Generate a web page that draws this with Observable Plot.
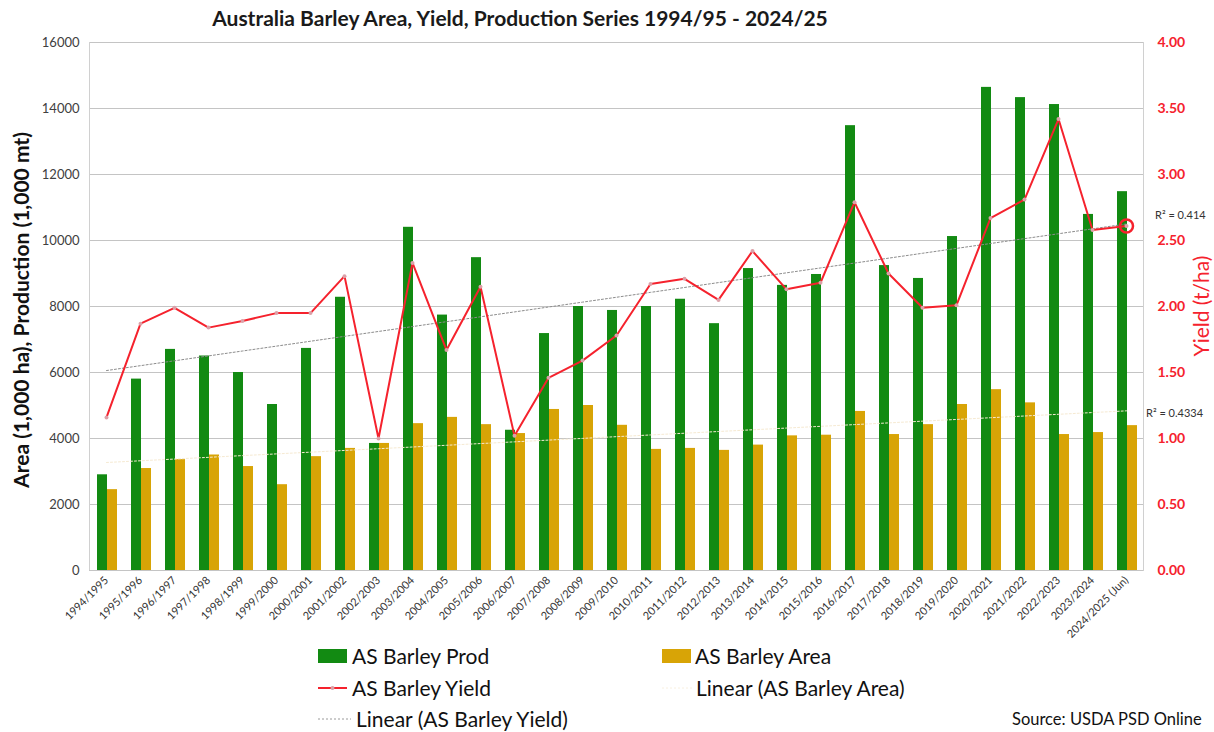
<!DOCTYPE html>
<html>
<head>
<meta charset="utf-8">
<script src="https://cdn.jsdelivr.net/npm/d3@7"></script>
<script src="https://cdn.jsdelivr.net/npm/@observablehq/plot@0.6"></script>
<style>
  html, body { margin: 0; padding: 0; background: #fff; }
  #wrap { position: relative; width: 1214px; height: 732px; overflow: hidden; font-family: Lato, "Open Sans", sans-serif; }
  #chart { position: absolute; left: 0; top: 0; }
  .abs { position: absolute; white-space: nowrap; }
  .title { left: 0; width: 1040px; text-align: center; top: 5px; font-size: 21px; font-weight: 700; color: #1a1a1a; }
  .ytitle { font-size: 21px; font-weight: 700; color: #111; transform: translate(-50%, -50%) rotate(-90deg); left: 20px; top: 310px; }
  .ytitle2 { font-size: 21px; color: #f5222d; transform: translate(-50%, -50%) rotate(-90deg); left: 1200px; top: 306px; }
  .leg { font-size: 21px; color: #111; }
  .r2 { font-size: 11px; color: #333; }
  .src { font-size: 16.5px; color: #111; }
</style>
</head>
<body>
<div id="wrap">
  <div id="chart"></div>
  <div class="abs title">Australia Barley Area, Yield, Production Series 1994/95 - 2024/25</div>
  <div class="abs ytitle">Area (1,000 ha), Production (1,000 mt)</div>
  <div class="abs ytitle2">Yield (t/ha)</div>
  <div class="abs r2" style="left:1155px; top:208px;">R² = 0.414</div>
  <div class="abs r2" style="left:1146px; top:406px;">R² = 0.4334</div>

  <svg class="abs" style="left:318px; top:648px;" width="30" height="16"><rect x="0" y="1" width="29" height="14" fill="#128a12"/></svg>
  <div class="abs leg" style="left:352px; top:643px;">AS Barley Prod</div>
  <svg class="abs" style="left:318px; top:680px;" width="30" height="16"><line x1="0" y1="8" x2="29" y2="8" stroke="#f5222d" stroke-width="2"/><circle cx="14.5" cy="8" r="2" fill="#d9a0a6"/></svg>
  <div class="abs leg" style="left:352px; top:675px;">AS Barley Yield</div>
  <svg class="abs" style="left:318px; top:711px;" width="34" height="16"><line x1="0" y1="8" x2="33" y2="8" stroke="#9a9a9a" stroke-width="1" stroke-dasharray="2,2"/></svg>
  <div class="abs leg" style="left:356px; top:706px;">Linear (AS Barley Yield)</div>

  <svg class="abs" style="left:662px; top:648px;" width="30" height="16"><rect x="0" y="1" width="29" height="14" fill="#d8a406"/></svg>
  <div class="abs leg" style="left:695px; top:643px;">AS Barley Area</div>
  <svg class="abs" style="left:662px; top:680px;" width="32" height="16"><line x1="0" y1="8" x2="31" y2="8" stroke="#f8f0e0" stroke-width="1" stroke-dasharray="2,2"/></svg>
  <div class="abs leg" style="left:696px; top:675px;">Linear (AS Barley Area)</div>

  <div class="abs src" style="left:1012px; top:709px;">Source: USDA PSD Online</div>
</div>
<script>
const seasons = ["1994/1995","1995/1996","1996/1997","1997/1998","1998/1999","1999/2000","2000/2001","2001/2002","2002/2003","2003/2004","2004/2005","2005/2006","2006/2007","2007/2008","2008/2009","2009/2010","2010/2011","2011/2012","2012/2013","2013/2014","2014/2015","2015/2016","2016/2017","2017/2018","2018/2019","2019/2020","2020/2021","2021/2022","2022/2023","2023/2024","2024/2025 (Jun)"];
const production = [2900,5800,6700,6500,6000,5030,6730,8280,3850,10400,7740,9480,4250,7180,8000,7880,8000,8220,7480,9150,8640,8970,13480,9240,8850,10120,14640,14330,14120,10790,11480];
const area = [2450,3090,3360,3500,3150,2600,3450,3700,3850,4450,4640,4420,4150,4880,5000,4400,3670,3700,3640,3800,4080,4100,4820,4120,4420,5030,5480,5080,4120,4180,4390];
const yieldTHa = [1.16,1.87,1.99,1.84,1.89,1.95,1.95,2.23,1.00,2.33,1.67,2.15,1.02,1.46,1.59,1.78,2.17,2.21,2.05,2.42,2.13,2.18,2.79,2.25,1.99,2.01,2.67,2.81,3.42,2.58,2.61];
const leftTicks = [0,2000,4000,6000,8000,10000,12000,14000,16000];
const rightTickLabels = ["0.00","0.50","1.00","1.50","2.00","2.50","3.00","3.50","4.00"];

// yield axis maps 0–4 t/ha onto the 0–16000 left axis
const yieldFactor = 4000;

function linfit(vals) {
  const n = vals.length;
  const xs = vals.map((_, i) => i + 1);
  const mx = d3.mean(xs), my = d3.mean(vals);
  let sxy = 0, sxx = 0;
  for (let i = 0; i < n; i++) { sxy += (xs[i] - mx) * (vals[i] - my); sxx += (xs[i] - mx) ** 2; }
  const b = sxy / sxx, a = my - b * mx;
  return xs.map(x => a + b * x);
}
const yieldFit = linfit(yieldTHa);
const areaFit = linfit(area);

const data = seasons.map((s, i) => ({
  season: s, prod: production[i], area: area[i], yld: yieldTHa[i],
  yldFit: yieldFit[i], areaFit: areaFit[i], last: i === seasons.length - 1
}));

const chart = Plot.plot({
  width: 1214,
  height: 650,
  marginTop: 42,
  marginLeft: 89,
  marginRight: 71,
  marginBottom: 80,
  style: { fontFamily: "Lato, 'Open Sans', sans-serif", background: "transparent" },
  x: { domain: seasons, padding: 0, label: null },
  y: { domain: [0, 16000], label: null },
  marks: [
    Plot.gridY(leftTicks, { stroke: "#c4c4c4", strokeOpacity: 1, strokeWidth: 1 }),
    Plot.frame({ anchor: "left", stroke: "#d0d0d0" }),
    Plot.frame({ anchor: "right", stroke: "#d0d0d0" }),
    Plot.barY(data, { x: "season", y: "prod", fill: "#128a12", insetLeft: 8, insetRight: 16 }),
    Plot.barY(data, { x: "season", y: "area", fill: "#d8a406", insetLeft: 18, insetRight: 6 }),
    Plot.ruleY([0], { stroke: "#c4c4c4" }),
    Plot.line(data, { x: "season", y: d => d.areaFit, stroke: "#f6ead2", strokeWidth: 1, strokeDasharray: "2,2" }),
    Plot.line(data, { x: "season", y: d => d.yldFit * yieldFactor, stroke: "#8c8c8c", strokeWidth: 1, strokeDasharray: "2,2" }),
    Plot.line(data, { x: "season", y: d => d.yld * yieldFactor, stroke: "#f5222d", strokeWidth: 2 }),
    Plot.dot(data, { x: "season", y: d => d.yld * yieldFactor, r: 2, fill: "#dca0a8", stroke: "none" }),
    Plot.dot(data.filter(d => d.last), { x: "season", y: d => d.yld * yieldFactor, r: 6.5, fill: "none", stroke: "#f5222d", strokeWidth: 2.5 }),
    Plot.axisY(leftTicks, { anchor: "left", tickSize: 0, tickPadding: 10, fontSize: 13, fill: "#404040", label: null, tickFormat: d => String(d) }),
    Plot.axisY(leftTicks, { anchor: "right", tickSize: 0, tickPadding: 14, fontSize: 14, fontWeight: 700, fill: "#f5222d", label: null,
      tickFormat: d => rightTickLabels[leftTicks.indexOf(d)] }),
    Plot.axisX({ tickRotate: -45, tickSize: 0, tickPadding: 8, fontSize: 11, fill: "#333", label: null })
  ]
});
document.getElementById("chart").appendChild(chart);
</script>
</body>
</html>
